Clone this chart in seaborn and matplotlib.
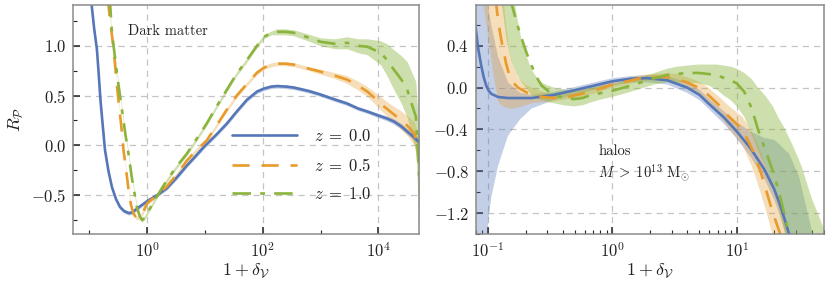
import numpy as np
import pandas as pd
import matplotlib
matplotlib.use("Agg")
import matplotlib.pyplot as plt
from matplotlib.ticker import FixedLocator, MultipleLocator, LogLocator, NullFormatter, FormatStrFormatter
import seaborn as sns

# ---------------- data (x stored as log10(1+delta_V)) ----------------
labels = [r"$z\;=\;0.0$", r"$z\;=\;0.5$", r"$z\;=\;1.0$"]
colors = ["#5577B8", "#E89B2A", "#8AB43C"]

# Left panel: dark matter
dm0_lx = [-0.98, -0.96, -0.92, -0.87, -0.84, -0.81, -0.77, -0.73, -0.67, -0.61,
          -0.54, -0.47, -0.40, -0.32, -0.27, -0.22, -0.12, 0.0, 0.17, 0.34,
          0.5, 0.69, 0.85, 0.99, 1.2, 1.38, 1.55, 1.73, 1.9, 2.02,
          2.15, 2.25, 2.4, 2.54, 2.8, 3.0, 3.25, 3.46, 3.65, 3.81,
          4.0, 4.15, 4.27, 4.4, 4.5, 4.62, 4.73]
dm0_y = [1.6, 1.4, 1.18, 0.96, 0.72, 0.46, 0.2, -0.05, -0.26, -0.42,
         -0.54, -0.62, -0.66, -0.68, -0.675, -0.655, -0.61, -0.56, -0.50, -0.43,
         -0.33, -0.2, -0.1, -0.01, 0.11, 0.22, 0.34, 0.46, 0.54, 0.57,
         0.59, 0.595, 0.59, 0.58, 0.545, 0.51, 0.46, 0.42, 0.37, 0.34,
         0.30, 0.27, 0.24, 0.19, 0.14, 0.08, 0.02]
dm0_err = [0.02] * 40 + [0.022, 0.025, 0.028, 0.03, 0.03, 0.035, 0.04]

dm1_lx = [-0.69, -0.67, -0.62, -0.58, -0.54, -0.50, -0.45, -0.41, -0.36, -0.32,
          -0.28, -0.24, -0.20, -0.17, -0.12, -0.08, 0.0, 0.17, 0.34, 0.5,
          0.69, 0.85, 1.03, 1.2, 1.38, 1.55, 1.73, 1.9, 2.02, 2.15,
          2.25, 2.4, 2.54, 2.8, 3.0, 3.25, 3.46, 3.65, 3.81, 3.95,
          4.1, 4.25, 4.38, 4.5, 4.62, 4.73]
dm1_y = [1.6, 1.4, 1.15, 0.96, 0.7, 0.46, 0.2, -0.05, -0.27, -0.46,
         -0.6, -0.68, -0.72, -0.73, -0.71, -0.68, -0.58, -0.5, -0.41, -0.3,
         -0.15, -0.05, 0.05, 0.2, 0.36, 0.5, 0.62, 0.73, 0.78, 0.81,
         0.82, 0.82, 0.81, 0.77, 0.74, 0.7, 0.66, 0.6, 0.54, 0.47,
         0.39, 0.32, 0.26, 0.2, 0.12, -0.11]
dm1_err = [0.02] * 34 + [0.025, 0.03, 0.04, 0.045, 0.05, 0.06, 0.07, 0.08, 0.09, 0.1, 0.12, 0.15]

dm2_lx = [-0.66, -0.64, -0.61, -0.555, -0.50, -0.44, -0.38, -0.32, -0.27, -0.22,
          -0.18, -0.13, -0.09, -0.05, 0.0, 0.17, 0.34, 0.5, 0.69, 0.85,
          1.03, 1.2, 1.38, 1.55, 1.73, 1.9, 2.02, 2.15, 2.25, 2.4,
          2.54, 2.8, 3.0, 3.25, 3.46, 3.65, 3.81, 4.04, 4.15, 4.27,
          4.4, 4.5, 4.65, 4.73]
dm2_y = [1.6, 1.4, 1.13, 0.87, 0.62, 0.37, 0.12, -0.1, -0.31, -0.48,
         -0.62, -0.71, -0.75, -0.73, -0.68, -0.51, -0.35, -0.22, -0.08, 0.06,
         0.22, 0.39, 0.56, 0.72, 0.86, 1.0, 1.09, 1.13, 1.14, 1.14,
         1.13, 1.08, 1.04, 1.02, 1.03, 1.0, 0.99, 0.93, 0.86, 0.76,
         0.66, 0.56, 0.29, -0.55]
dm2_err = [0.02] * 28 + [0.03, 0.03, 0.03, 0.035, 0.04, 0.05, 0.06, 0.07, 0.08, 0.12,
                         0.16, 0.2, 0.24, 0.28, 0.35, 0.45]

# Right panel: halos M > 1e13 Msun (line, lower and upper band edges)
h0_lx = [-1.10, -1.08, -1.055, -1.035, -1.015, -0.995, -0.974, -0.92, -0.84, -0.74,
         -0.65, -0.47, -0.25, 0.0, 0.15, 0.28, 0.44, 0.60, 0.70, 0.77,
         0.90, 1.0, 1.11, 1.22, 1.30, 1.35, 1.39, 1.42, 1.5, 1.6, 1.7]
h0_y = [0.57, 0.38, 0.21, 0.10, 0.02, -0.03, -0.06, -0.09, -0.10, -0.10,
        -0.10, -0.07, -0.01, 0.06, 0.085, 0.09, 0.07, 0.0, -0.07, -0.15,
        -0.29, -0.42, -0.58, -0.78, -0.97, -1.13, -1.28, -1.40, -1.8, -2.2, -2.6]
h0_lo = [-1.6, -1.6, -1.6, -1.55, -1.45, -1.25, -1.05, -0.75, -0.46, -0.3,
         -0.2, -0.12, -0.05, 0.02, 0.05, 0.05, 0.03, -0.05, -0.12, -0.2,
         -0.35, -0.49, -0.66, -0.87, -1.07, -1.24, -1.4, -1.55, -2.0, -2.4, -2.8]
h0_hi = [1.0, 1.0, 1.0, 1.0, 0.9, 0.75, 0.6, 0.3, 0.05, -0.05,
         -0.07, -0.04, 0.02, 0.09, 0.11, 0.12, 0.11, 0.05, -0.02, -0.1,
         -0.23, -0.33, -0.42, -0.48, -0.5, -0.55, -0.6, -0.63, -0.85, -1.35, -1.8]

h1_lx = [-1.044, -1.0, -0.96, -0.935, -0.92, -0.9, -0.88, -0.855, -0.83, -0.8,
         -0.76, -0.7, -0.65, -0.56, -0.47, -0.36, -0.25, -0.12, 0.0, 0.12,
         0.23, 0.34, 0.44, 0.52, 0.60, 0.69, 0.77, 0.85, 0.93, 1.045,
         1.12, 1.19, 1.24, 1.29, 1.355, 1.42]
h1_y = [3.0, 2.0, 1.2, 0.8, 0.65, 0.5, 0.37, 0.23, 0.12, 0.05,
        0.0, -0.04, -0.07, -0.09, -0.10, -0.09, -0.06, -0.02, 0.03, 0.06,
        0.09, 0.10, 0.10, 0.08, 0.05, 0.0, -0.07, -0.16, -0.27, -0.40,
        -0.58, -0.8, -1.0, -1.2, -1.42, -1.7]
h1_lo = [0.85, 0.5, 0.15, -0.02, -0.13, -0.16, -0.18, -0.19, -0.2, -0.2,
         -0.19, -0.17, -0.15, -0.14, -0.13, -0.11, -0.09, -0.05, 0.0, 0.03,
         0.06, 0.07, 0.06, 0.04, 0.0, -0.06, -0.14, -0.25, -0.38, -0.55,
         -0.75, -1.0, -1.2, -1.42, -1.7, -2.0]
h1_hi = [3.0, 3.0, 3.0, 3.0, 3.0, 3.0, 0.9, 0.6, 0.37, 0.22,
         0.10, 0.03, 0.0, -0.04, -0.06, -0.05, -0.02, 0.01, 0.06, 0.09,
         0.12, 0.13, 0.14, 0.13, 0.10, 0.06, 0.0, -0.08, -0.17, -0.28,
         -0.42, -0.6, -0.78, -0.95, -1.15, -1.4]

h2_lx = [-0.95, -0.9, -0.85, -0.81, -0.77, -0.73, -0.69, -0.65, -0.61, -0.57,
         -0.52, -0.47, -0.39, -0.31, -0.24, -0.17, -0.08, 0.0, 0.12, 0.23,
         0.34, 0.44, 0.52, 0.60, 0.69, 0.77, 0.84, 0.90, 0.95, 1.0,
         1.06, 1.12, 1.17, 1.23, 1.29, 1.34, 1.38, 1.42, 1.46, 1.52,
         1.6, 1.7]
h2_y = [3.0, 2.0, 1.1, 0.8, 0.62, 0.47, 0.33, 0.21, 0.1, 0.02,
        -0.03, -0.07, -0.1, -0.11, -0.1, -0.07, -0.05, -0.03, 0.01, 0.05,
        0.09, 0.12, 0.13, 0.14, 0.14, 0.13, 0.12, 0.09, 0.07, 0.04,
        -0.04, -0.2, -0.4, -0.6, -0.8, -1.0, -1.2, -1.4, -1.6, -1.85,
        -2.2, -2.6]
h2_lo = [1.5, 0.9, 0.45, 0.25, 0.13, 0.05, -0.01, -0.07, -0.1, -0.12,
         -0.14, -0.15, -0.17, -0.18, -0.17, -0.14, -0.11, -0.09, -0.05, -0.01,
         0.03, 0.05, 0.05, 0.05, 0.04, 0.02, -0.02, -0.08, -0.12, -0.18,
         -0.28, -0.45, -0.6, -0.75, -0.95, -1.15, -1.35, -1.55, -1.75, -2.0,
         -2.3, -2.7]
h2_hi = [3.0, 3.0, 3.0, 1.0, 0.7, 0.45, 0.3, 0.17, 0.1, 0.05,
         0.02, 0.0, -0.02, -0.03, -0.02, 0.0, 0.02, 0.03, 0.07, 0.1,
         0.14, 0.18, 0.2, 0.21, 0.22, 0.22, 0.22, 0.21, 0.2, 0.18,
         0.14, 0.08, 0.0, -0.08, -0.18, -0.3, -0.38, -0.48, -0.58, -0.75,
         -1.05, -1.35]

# ---------------- style ----------------
sns.set_theme(style="white")
plt.rcParams.update({
    "font.family": "serif",
    "font.serif": ["cmr10"],
    "mathtext.fontset": "cm",
    "axes.formatter.use_mathtext": True,
    "axes.unicode_minus": True,
    "axes.edgecolor": "#8a8a8a",
    "axes.linewidth": 1.1,
    "xtick.direction": "in",
    "ytick.direction": "in",
    "xtick.color": "#222222",
    "ytick.color": "#222222",
    "axes.labelcolor": "#222222",
    "text.color": "#222222",
})

fig = plt.figure(figsize=(8.3, 2.9), dpi=100)
axL = fig.add_axes([0.088, 0.193, 0.417, 0.790])
axR = fig.add_axes([0.5735, 0.193, 0.419, 0.790])

dashes = ["-", (0, (6.5, 4.5)), (0, (7, 3.5, 1.8, 3.5))]
lw = 1.9
fill_alpha = [0.35, 0.32, 0.42]

dm_sets = [(dm0_lx, dm0_y, dm0_err), (dm1_lx, dm1_y, dm1_err), (dm2_lx, dm2_y, dm2_err)]
for i, (lx, y, e) in enumerate(dm_sets):
    x = 10 ** np.array(lx)
    y = np.array(y)
    e = np.array(e)
    axL.fill_between(x, y - e, y + e, color=colors[i], alpha=fill_alpha[i], lw=0)
for i, (lx, y, e) in enumerate(dm_sets):
    df = pd.DataFrame({"x": 10 ** np.array(lx), "y": y})
    sns.lineplot(data=df, x="x", y="y", ax=axL, color=colors[i], lw=lw, linestyle=dashes[i],
                 label=labels[i], sort=False, errorbar=None)

h_sets = [(h0_lx, h0_y, h0_lo, h0_hi), (h1_lx, h1_y, h1_lo, h1_hi), (h2_lx, h2_y, h2_lo, h2_hi)]
for i, (lx, y, lo, hi) in enumerate(h_sets):
    x = 10 ** np.array(lx)
    axR.fill_between(x, lo, hi, color=colors[i], alpha=fill_alpha[i], lw=0)
for i, (lx, y, lo, hi) in enumerate(h_sets):
    df = pd.DataFrame({"x": 10 ** np.array(lx), "y": y})
    sns.lineplot(data=df, x="x", y="y", ax=axR, color=colors[i], lw=lw, linestyle=dashes[i],
                 sort=False, errorbar=None, legend=False)

# ---------------- axes formatting ----------------
for ax in (axL, axR):
    ax.set_xscale("log")
    ax.set_xlabel(r"$1+\delta_{\mathcal{V}}$", fontsize=13, labelpad=1)
    ax.set_ylabel("")
    ax.tick_params(which="major", length=5, width=1.1, labelsize=12, pad=5,
                   bottom=True, left=True, top=False, right=False)
    ax.tick_params(which="minor", length=3, width=0.8, bottom=True, left=True, top=False, right=False)
    ax.grid(True, which="major", ls=(0, (5, 4)), color="#c4c4c4", lw=0.9)
    ax.set_axisbelow(True)

axL.set_xlim(0.052, 51000)
axL.set_ylim(-0.89, 1.41)
axL.xaxis.set_major_locator(FixedLocator([1e0, 1e2, 1e4]))
axL.xaxis.set_minor_locator(FixedLocator([1e-1, 1e1, 1e3]))
axL.xaxis.set_minor_formatter(NullFormatter())
axL.yaxis.set_major_locator(MultipleLocator(0.5))
axL.yaxis.set_minor_locator(MultipleLocator(0.25))
axL.yaxis.set_major_formatter(FormatStrFormatter(r"$%.1f$"))
axL.set_ylabel(r"$R_{\mathcal{P}}$", fontsize=13, labelpad=4)
axL.text(0.159, 0.886, "Dark matter", transform=axL.transAxes, fontsize=10.5, va="center", ha="left")
axL.legend(loc="center", bbox_to_anchor=(0.66, 0.30), frameon=False, fontsize=12,
           handlelength=3.9, labelspacing=0.75, handletextpad=1.0)

axR.set_xlim(0.08, 50)
axR.set_ylim(-1.40, 0.79)
axR.xaxis.set_major_locator(LogLocator(base=10, numticks=10))
axR.xaxis.set_minor_locator(LogLocator(base=10, subs=np.arange(2, 10), numticks=20))
axR.xaxis.set_minor_formatter(NullFormatter())
axR.yaxis.set_major_locator(MultipleLocator(0.4))
axR.yaxis.set_minor_locator(MultipleLocator(0.2))
axR.yaxis.set_major_formatter(FormatStrFormatter(r"$%.1f$"))
axR.text(0.351, 0.362, "halos", transform=axR.transAxes, fontsize=10.5, va="center", ha="left")
axR.text(0.351, 0.268, r"$M\;>\;10^{13}\ \mathrm{M}_{\odot}$", transform=axR.transAxes,
         fontsize=10.5, va="center", ha="left")

fig.savefig("out.png", dpi=100)
